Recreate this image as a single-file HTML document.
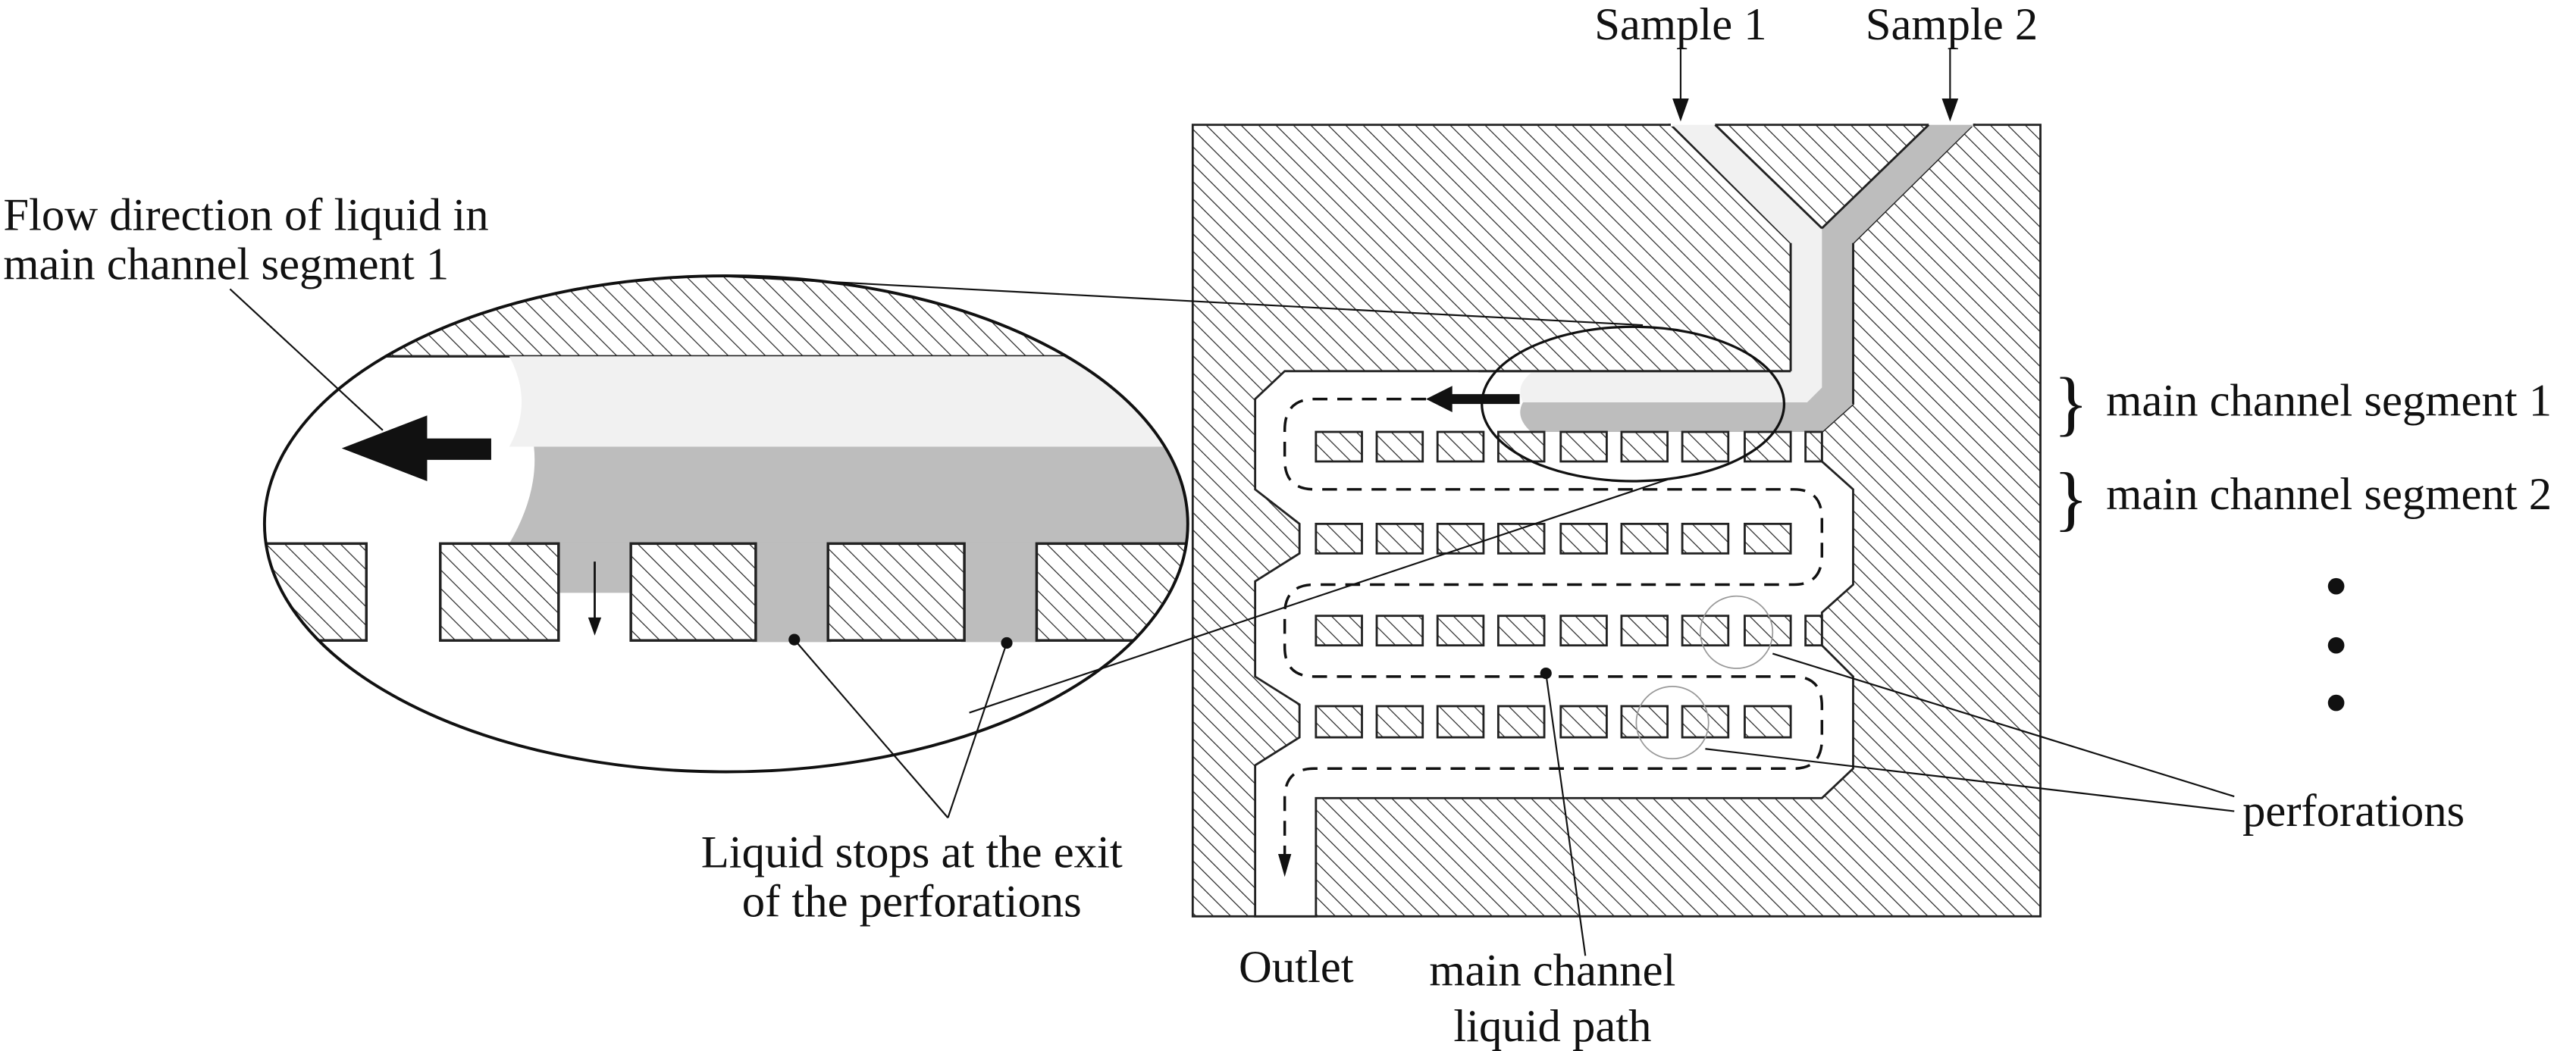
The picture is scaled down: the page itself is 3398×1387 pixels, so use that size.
<!DOCTYPE html>
<html><head><meta charset="utf-8"><style>
html,body{margin:0;padding:0;background:#fff;}
svg{display:block;}
text{font-family:"Liberation Serif",serif;fill:#111;}
</style></head><body>
<svg width="3398" height="1387" viewBox="0 0 1568 640" preserveAspectRatio="none" xmlns="http://www.w3.org/2000/svg">
<defs>
<pattern id="h" patternUnits="userSpaceOnUse" width="7.5" height="7.5" patternTransform="rotate(-45)">
<rect width="7.5" height="7.5" fill="#fff"/><line x1="0" y1="0" x2="0" y2="7.5" stroke="#222" stroke-width="1.1"/>
</pattern>
<pattern id="h2" patternUnits="userSpaceOnUse" width="8" height="8" patternTransform="rotate(-45)">
<rect width="8" height="8" fill="#fff"/><line x1="0" y1="0" x2="0" y2="8" stroke="#222" stroke-width="1.1"/>
</pattern>
<clipPath id="zc"><ellipse cx="442" cy="319" rx="281" ry="151"/></clipPath>
</defs>

<!-- chip -->
<rect x="726" y="76" width="516" height="482" fill="url(#h)" stroke="#222" stroke-width="1.3"/>
<path d="M1017,76 L1090,148 L1090,226 L782,226 L764,243 L764,298 L791,319 L791,337 L764,354 L764,412 L791,429 L791,449 L764,466 L764,558 L801,558 L801,486 L1109,486 L1128,468 L1128,412 L1109,393 L1109,373 L1128,356 L1128,298 L1109,281 L1109,263 L1128,246 L1128,148 L1201,76 L1174,76 L1109,139 L1044,76 Z" fill="#fff" stroke="#222" stroke-width="1.3"/>
<line x1="1017" y1="76" x2="1044" y2="76" stroke="#fff" stroke-width="2"/>
<line x1="1174" y1="76" x2="1201" y2="76" stroke="#fff" stroke-width="2"/>
<!-- fluids -->
<path d="M1018,76 L1044,76 L1109,139 L1109,236 L1100,245 L927,245 Q922,235 932,227 L1090,227 L1090,148 Z" fill="#f1f1f1"/>
<path d="M1174,76 L1201,76 L1128,148 L1128,246 L1109,263 L932,263 Q922,254 927,245 L1100,245 L1109,236 L1109,139 Z" fill="#bdbdbd"/>
<line x1="1090" y1="148" x2="1090" y2="226" stroke="#222" stroke-width="1.3"/>
<line x1="1090" y1="226" x2="900" y2="226" stroke="#222" stroke-width="1.3"/>
<line x1="1128" y1="148" x2="1128" y2="246" stroke="#222" stroke-width="1.3"/>
<line x1="1109" y1="139" x2="1044" y2="76" stroke="#222" stroke-width="1.3"/>
<line x1="1109" y1="139" x2="1174" y2="76" stroke="#222" stroke-width="1.3"/>
<!-- perforation blocks -->
<g fill="url(#h)" stroke="#222" stroke-width="1.3">
<rect x="801" y="263" width="28" height="18"/><rect x="838" y="263" width="28" height="18"/><rect x="875" y="263" width="28" height="18"/><rect x="912" y="263" width="28" height="18"/><rect x="950" y="263" width="28" height="18"/><rect x="987" y="263" width="28" height="18"/><rect x="1024" y="263" width="28" height="18"/><rect x="1062" y="263" width="28" height="18"/><rect x="1099" y="263" width="10" height="18"/>
<rect x="801" y="319" width="28" height="18"/><rect x="838" y="319" width="28" height="18"/><rect x="875" y="319" width="28" height="18"/><rect x="912" y="319" width="28" height="18"/><rect x="950" y="319" width="28" height="18"/><rect x="987" y="319" width="28" height="18"/><rect x="1024" y="319" width="28" height="18"/><rect x="1062" y="319" width="28" height="18"/>
<rect x="801" y="375" width="28" height="18"/><rect x="838" y="375" width="28" height="18"/><rect x="875" y="375" width="28" height="18"/><rect x="912" y="375" width="28" height="18"/><rect x="950" y="375" width="28" height="18"/><rect x="987" y="375" width="28" height="18"/><rect x="1024" y="375" width="28" height="18"/><rect x="1062" y="375" width="28" height="18"/><rect x="1099" y="375" width="10" height="18"/>
<rect x="801" y="430" width="28" height="19"/><rect x="838" y="430" width="28" height="19"/><rect x="875" y="430" width="28" height="19"/><rect x="912" y="430" width="28" height="19"/><rect x="950" y="430" width="28" height="19"/><rect x="987" y="430" width="28" height="19"/><rect x="1024" y="430" width="28" height="19"/><rect x="1062" y="430" width="28" height="19"/>
</g>
<!-- dashed path -->
<path d="M868,243 L800,243 Q782,243 782,262 L782,280 Q782,298 800,298 L1092,298 Q1109,298 1109,316 L1109,338 Q1109,356 1092,356 L800,356 Q782,356 782,374 L782,394 Q782,412 800,412 L1092,412 Q1109,412 1109,430 L1109,450 Q1109,468 1092,468 L800,468 Q782,468 782,486 L782,522" fill="none" stroke="#111" stroke-width="1.6" stroke-dasharray="9,6"/>
<path d="M778,520 L786,520 L782,534 Z" fill="#111"/>
<path d="M868,243 L884,235 L884,240 L925,240 L925,246 L884,246 L884,251 Z" fill="#111"/>
<!-- chip ellipse & circles -->
<ellipse cx="994" cy="246" rx="92" ry="47" fill="none" stroke="#111" stroke-width="1.5"/>
<circle cx="1057" cy="385" r="22" fill="none" stroke="#999" stroke-width="0.8"/>
<circle cx="1018" cy="440" r="22" fill="none" stroke="#999" stroke-width="0.8"/>

<!-- zoom ellipse -->
<g clip-path="url(#zc)">
<rect x="150" y="160" width="580" height="320" fill="#fff"/>
<rect x="150" y="160" width="580" height="57" fill="url(#h2)"/>
<line x1="150" y1="217" x2="730" y2="217" stroke="#222" stroke-width="1.5"/>
<path d="M310,217 L730,217 L730,272 L310,272 Q325,245 310,217 Z" fill="#f1f1f1"/>
<path d="M325,272 L730,272 L730,331 L310,331 Q328,300 325,272 Z" fill="#bdbdbd"/>
<rect x="338" y="330" width="48" height="31" fill="#bdbdbd"/>
<rect x="458" y="330" width="48" height="61" fill="#bdbdbd"/>
<rect x="585" y="330" width="48" height="61" fill="#bdbdbd"/>
<g fill="url(#h2)" stroke="#222" stroke-width="1.6">
<rect x="150" y="331" width="73" height="59"/><rect x="268" y="331" width="72" height="59"/><rect x="384" y="331" width="76" height="59"/><rect x="504" y="331" width="83" height="59"/><rect x="631" y="331" width="100" height="59"/>
</g>
</g>
<ellipse cx="442" cy="319" rx="281" ry="151" fill="none" stroke="#111" stroke-width="1.8"/>
<path d="M208,273 L260,253 L260,267 L299,267 L299,280 L260,280 L260,293 Z" fill="#111"/>
<line x1="362" y1="342" x2="362" y2="378" stroke="#111" stroke-width="1.3"/>
<path d="M358,376 L366,376 L362,387 Z" fill="#111"/>
<circle cx="483.5" cy="389.5" r="3.5" fill="#111"/>
<circle cx="612.8" cy="391.5" r="3.5" fill="#111"/>

<!-- leader lines -->
<g stroke="#111" stroke-width="1" fill="none">
<line x1="437" y1="168" x2="1000" y2="198"/>
<line x1="590" y1="434" x2="1015" y2="292"/>
<line x1="140" y1="176" x2="233" y2="262"/>
<line x1="483.5" y1="389.5" x2="577" y2="498"/>
<line x1="612.8" y1="391.5" x2="577" y2="498"/>
<line x1="1079" y1="398" x2="1360" y2="485"/>
<line x1="1038" y1="456" x2="1360" y2="494"/>
<line x1="941" y1="410" x2="965" y2="582"/>
<line x1="1023" y1="30" x2="1023" y2="62"/>
<line x1="1187" y1="30" x2="1187" y2="62"/>
</g>
<circle cx="941" cy="410" r="3.5" fill="#111"/>
<path d="M1018,60 L1028,60 L1023,74 Z" fill="#111"/>
<path d="M1182,60 L1192,60 L1187,74 Z" fill="#111"/>

<!-- text -->
<g font-size="28">
<text x="1023" y="24" text-anchor="middle">Sample 1</text>
<text x="1188" y="24" text-anchor="middle">Sample 2</text>
<text x="2" y="140">Flow direction of liquid in</text>
<text x="2" y="170">main channel segment 1</text>
<text x="1282" y="253">main channel segment 1</text>
<text x="1282" y="310">main channel segment 2</text>
<text x="1365" y="503">perforations</text>
<text x="555" y="528" text-anchor="middle">Liquid stops at the exit</text>
<text x="555" y="558" text-anchor="middle">of the perforations</text>
<text x="789" y="598" text-anchor="middle">Outlet</text>
<text x="945" y="600" text-anchor="middle">main channel</text>
<text x="945" y="634" text-anchor="middle">liquid path</text>
</g>
<text x="1250" y="260" font-size="44">}</text>
<text x="1250" y="318" font-size="44">}</text>
<circle cx="1422" cy="357" r="5" fill="#111"/>
<circle cx="1422" cy="393" r="5" fill="#111"/>
<circle cx="1422" cy="428" r="5" fill="#111"/>
</svg>
</body></html>
